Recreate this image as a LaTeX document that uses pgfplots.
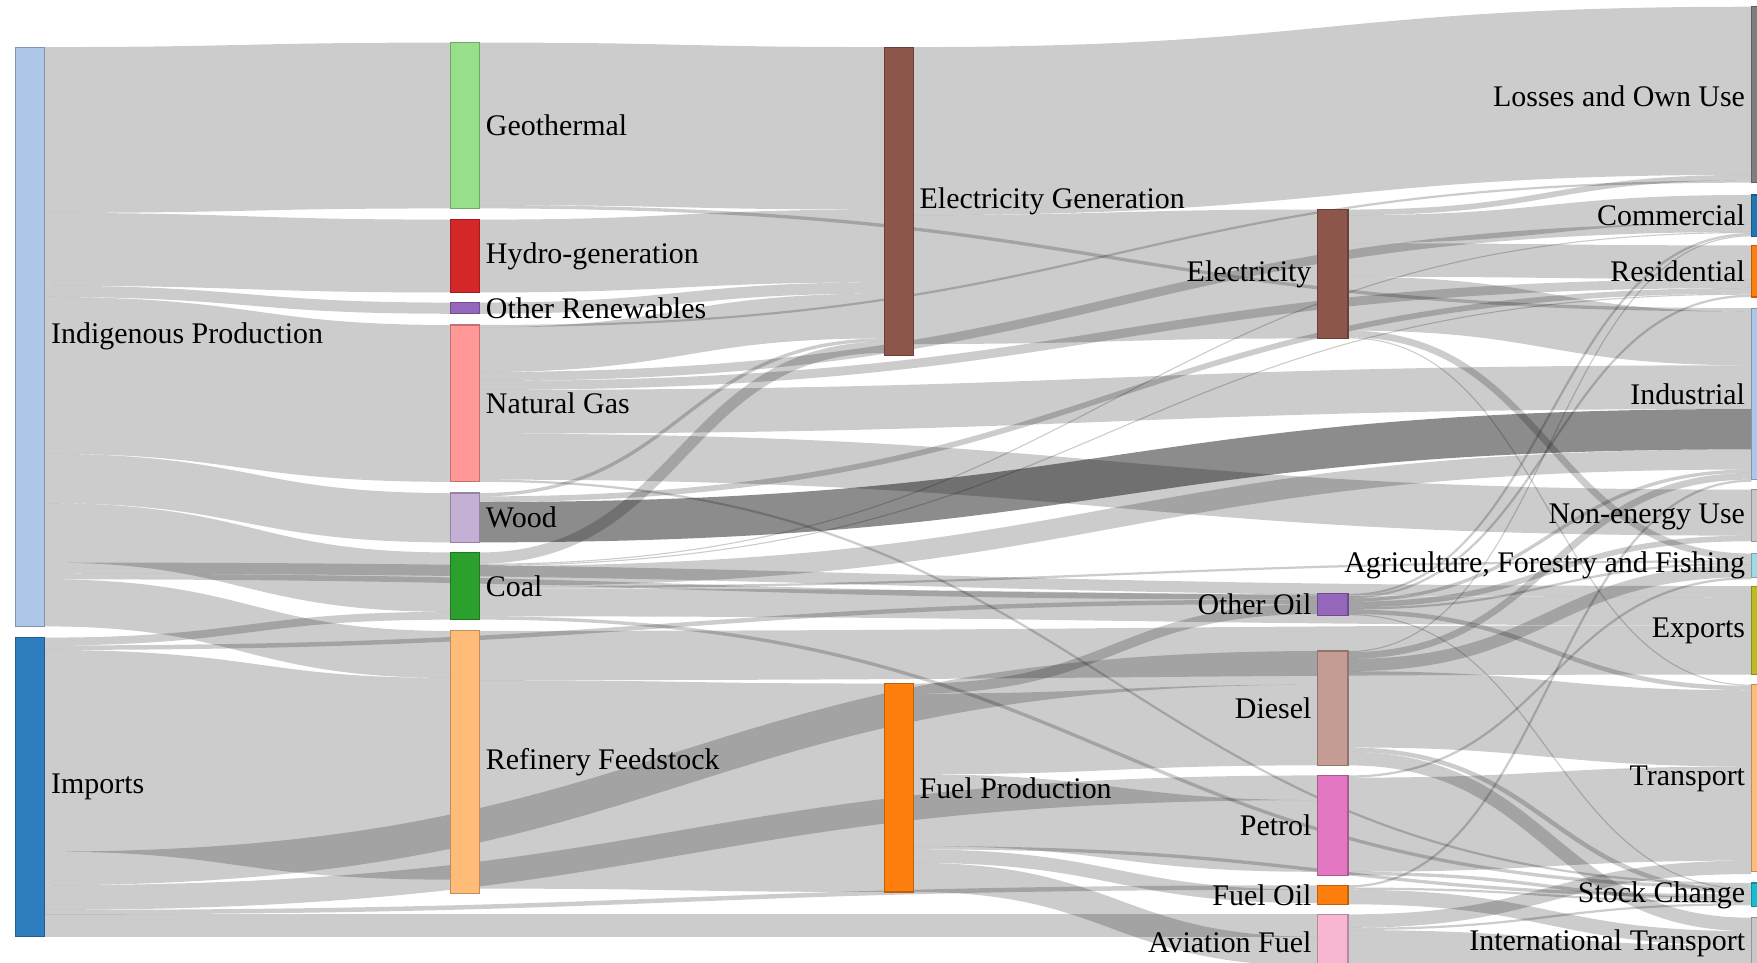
\documentclass[border=0pt]{standalone}
\usepackage{pgfplots}
\pgfplotsset{compat=1.18}
\usepackage{fontspec}
\setmainfont{Liberation Serif}

% d3 category20 node colours
\definecolor{cIP}{HTML}{AEC7E8}
\definecolor{cIM}{HTML}{2E7EBF}
\definecolor{cGEO}{HTML}{98DF8A}
\definecolor{cHYD}{HTML}{D62728}
\definecolor{cORN}{HTML}{9467BD}
\definecolor{cGAS}{HTML}{FF9896}
\definecolor{cWOOD}{HTML}{C5B0D5}
\definecolor{cCOAL}{HTML}{2CA02C}
\definecolor{cREF}{HTML}{FFBB78}
\definecolor{cEG}{HTML}{8C564B}
\definecolor{cFP}{HTML}{FF7F0E}
\definecolor{cDIE}{HTML}{C49C94}
\definecolor{cPET}{HTML}{E377C2}
\definecolor{cAV}{HTML}{F7B6D2}
\definecolor{cLOSS}{HTML}{7F7F7F}
\definecolor{cCOM}{HTML}{1F77B4}
\definecolor{cNEU}{HTML}{C7C7C7}
\definecolor{cAGR}{HTML}{9EDAE5}
\definecolor{cEXP}{HTML}{BCBD22}
\definecolor{cSTK}{HTML}{17BECF}

\tikzset{lab/.style={font=\fontsize{7.6}{9}\selectfont, inner sep=0pt, text=black}}

% link: [style]{x source}{x target}{top at source}{top at target}{width}
\newcommand\lnk[6][]{%
  \pgfmathsetmacro\lya{#4+#6/2}%
  \pgfmathsetmacro\lyb{#5+#6/2}%
  \pgfmathsetmacro\lxm{(#2+#3)/2}%
  \edef\lnkcmd{\noexpand\draw[draw=black,draw opacity=0.2,line width=#6*0.1mm,#1]
    (axis cs:#2,\lya) .. controls (axis cs:\lxm,\lya) and (axis cs:\lxm,\lyb) .. (axis cs:#3,\lyb);}%
  \lnkcmd}
% node: {x0}{x1}{y0}{y1}{colour}
\newcommand\nd[5]{\addplot[fill=#5, draw=#5!75!black, line width=0.1mm]
  coordinates {(#1,#3) (#2,#3) (#2,#4) (#1,#4)} -- cycle;}

\begin{document}
\begin{tikzpicture}
\begin{axis}[name=ax, width=156.8mm, height=85.9mm, scale only axis,
    xmin=0, xmax=1568, ymin=0, ymax=859, y dir=reverse,
    enlargelimits=false, hide axis, clip=true]

% Indigenous Production
\lnk{40}{402}{42}{38}{148}
\lnk{40}{402}{190}{196}{65}
\lnk{40}{402}{255}{270}{10}
\lnk{40}{402}{265}{290}{140}
\lnk{40}{402}{405}{440}{44}
\lnk{40}{402}{449}{493}{53}
\lnk{40}{1563}{502}{523}{10}
\lnk{40}{1176}{512}{530}{5}
\lnk{40}{402}{517}{563}{42}
% Imports
\lnk{40}{402}{569}{546}{7}
\lnk{40}{1176}{576}{535}{4}
\lnk{40}{402}{580}{605}{180}
\lnk{40}{1176}{760}{581}{30}
\lnk{40}{1176}{790}{692}{22}
\lnk{40}{1176}{812}{790}{4}
\lnk{40}{1176}{816}{816}{20}
% Geothermal, hydro, other renewables
\lnk{428}{789}{38}{42}{145}
\lnk{428}{1563}{183}{275}{3}
\lnk{428}{789}{196}{187}{65}
\lnk{428}{789}{270}{252}{10}
% Natural gas
\lnk{428}{1563}{290}{161}{2}
\lnk{428}{789}{292}{262}{40}
\lnk{428}{1563}{332}{199}{8}
\lnk{428}{1563}{340}{249}{8}
\lnk{428}{1563}{348}{326}{39}
\lnk{428}{1563}{387}{437}{41}
\lnk{428}{1563}{428}{788}{2}
% Wood
\lnk{428}{789}{440}{302}{3}
\lnk{428}{1563}{443}{257}{5}
\lnk[draw opacity=0.45]{428}{1563}{448}{365}{36}
% Coal
\lnk{428}{789}{493}{305}{10}
\lnk{428}{1563}{503}{207}{1}
\lnk{428}{1563}{504}{262}{1}
\lnk{428}{1563}{505}{401}{18}
\lnk{428}{1563}{523}{500}{2}
\lnk{428}{1563}{525}{533}{25}
\lnk{428}{1563}{550}{790}{3}
% Refinery feedstock
\lnk{428}{1563}{563}{558}{44}
\lnk{428}{789}{607}{610}{186}
% Electricity generation
\lnk{815}{1563}{42}{6}{150}
\lnk{815}{1176}{192}{187}{115}
% Fuel production
\lnk{815}{1176}{610}{539}{9}
\lnk{815}{1176}{619}{611}{72}
\lnk{815}{1176}{691}{714}{64}
\lnk{815}{1563}{755}{798}{3}
\lnk{815}{1176}{758}{794}{12}
\lnk{815}{1176}{770}{836}{26}
% Electricity
\lnk{1203}{1563}{187}{156}{5}
\lnk{1203}{1563}{192}{174}{25}
\lnk{1203}{1563}{217}{219}{30}
\lnk{1203}{1563}{247}{278}{48}
\lnk{1203}{1563}{295}{494}{6}
\lnk{1203}{1563}{301}{611}{1}
% Other oil
\lnk{1203}{1563}{530}{208}{2}
\lnk{1203}{1563}{532}{263}{2}
\lnk{1203}{1563}{534}{419}{3}
\lnk{1203}{1563}{537}{478}{5}
\lnk{1203}{1563}{542}{502}{2}
\lnk{1203}{1563}{544}{612}{4}
\lnk{1203}{1563}{548}{793}{1}
% Diesel
\lnk{1203}{1563}{581}{210}{1}
\lnk{1203}{1563}{582}{422}{6}
\lnk{1203}{1563}{588}{504}{11}
\lnk{1203}{1563}{599}{616}{68}
\lnk{1203}{1563}{667}{794}{4}
\lnk{1203}{1563}{671}{819}{12}
% Petrol
\lnk{1203}{1563}{692}{515}{2}
\lnk{1203}{1563}{694}{684}{84}
\lnk{1203}{1563}{778}{801}{3}
% Fuel oil
\lnk{1203}{1563}{790}{428}{2}
\lnk{1203}{1563}{792}{804}{2}
\lnk{1203}{1563}{794}{831}{13}
% Aviation fuel
\lnk{1203}{1563}{816}{768}{12}
\lnk{1203}{1563}{828}{806}{2}
\lnk{1203}{1563}{830}{844}{32}

% nodes
\nd{14}{40}{42}{559}{cIP}
\nd{14}{40}{569}{836}{cIM}
\nd{402}{428}{38}{186}{cGEO}
\nd{402}{428}{196}{261}{cHYD}
\nd{402}{428}{270}{280}{cORN}
\nd{402}{428}{290}{430}{cGAS}
\nd{402}{428}{440}{484}{cWOOD}
\nd{402}{428}{493}{553}{cCOAL}
\nd{402}{428}{563}{797}{cREF}
\nd{789}{815}{42}{317}{cEG}
\nd{789}{815}{610}{796}{cFP}
\nd{1176}{1203}{187}{302}{cEG}
\nd{1176}{1203}{530}{549}{cORN}
\nd{1176}{1203}{581}{683}{cDIE}
\nd{1176}{1203}{692}{781}{cPET}
\nd{1176}{1203}{790}{807}{cFP}
\nd{1176}{1203}{816}{866}{cAV}
\nd{1563}{1589}{6}{163}{cLOSS}
\nd{1563}{1589}{174}{211}{cCOM}
\nd{1563}{1589}{219}{265}{cFP}
\nd{1563}{1589}{275}{428}{cIP}
\nd{1563}{1589}{437}{483}{cNEU}
\nd{1563}{1589}{494}{515}{cAGR}
\nd{1563}{1589}{523}{602}{cEXP}
\nd{1563}{1589}{611}{778}{cREF}
\nd{1563}{1589}{788}{809}{cSTK}
\nd{1563}{1589}{819}{866}{cNEU}

% labels
\node[lab, anchor=west] at (axis cs:45,300.5) {Indigenous Production};
\node[lab, anchor=west] at (axis cs:45,702.5) {Imports};
\node[lab, anchor=west] at (axis cs:433,112) {Geothermal};
\node[lab, anchor=west] at (axis cs:433,228.5) {Hydro-generation};
\node[lab, anchor=west] at (axis cs:433,275) {Other Renewables};
\node[lab, anchor=west] at (axis cs:433,360) {Natural Gas};
\node[lab, anchor=west] at (axis cs:433,462) {Wood};
\node[lab, anchor=west] at (axis cs:433,523) {Coal};
\node[lab, anchor=west] at (axis cs:433,680) {Refinery Feedstock};
\node[lab, anchor=west] at (axis cs:820,179.5) {Electricity Generation};
\node[lab, anchor=west] at (axis cs:820,703) {Fuel Production};
\node[lab, anchor=east] at (axis cs:1171,244.5) {Electricity};
\node[lab, anchor=east] at (axis cs:1171,539.5) {Other Oil};
\node[lab, anchor=east] at (axis cs:1171,632) {Diesel};
\node[lab, anchor=east] at (axis cs:1171,736.5) {Petrol};
\node[lab, anchor=east] at (axis cs:1171,798.5) {Fuel Oil};
\node[lab, anchor=east] at (axis cs:1171,841) {Aviation Fuel};
\node[lab, anchor=east] at (axis cs:1558,85.5) {Losses and Own Use};
\node[lab, anchor=east] at (axis cs:1558,192.5) {Commercial};
\node[lab, anchor=east] at (axis cs:1558,242) {Residential};
\node[lab, anchor=east] at (axis cs:1558,351.5) {Industrial};
\node[lab, anchor=east] at (axis cs:1558,461) {Non-energy Use};
\node[lab, anchor=east] at (axis cs:1558,504.5) {Agriculture, Forestry and Fishing};
\node[lab, anchor=east] at (axis cs:1558,563) {Exports};
\node[lab, anchor=east] at (axis cs:1558,695) {Transport};
\node[lab, anchor=east] at (axis cs:1558,799) {Stock Change};
\node[lab, anchor=east] at (axis cs:1558,842) {International Transport};
\end{axis}
\pgfresetboundingbox
\path[use as bounding box] (ax.south west) rectangle (ax.north east);
\end{tikzpicture}
\end{document}
